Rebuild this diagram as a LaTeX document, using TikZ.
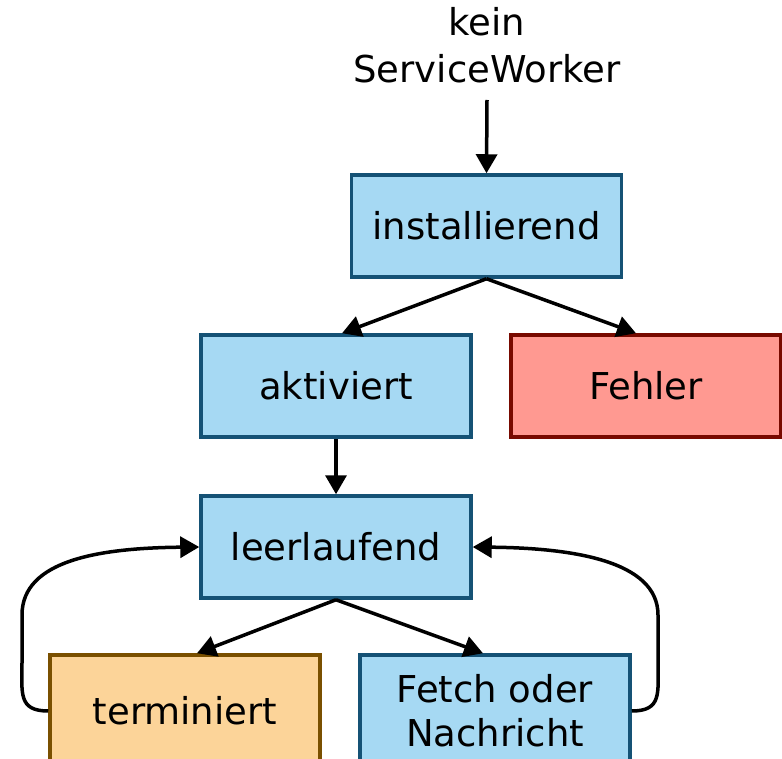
\documentclass[tikz,border=0pt]{standalone}
\usepackage{fontspec}
\setmainfont{DejaVu Sans}
\usetikzlibrary{arrows.meta}
\definecolor{bluefill}{HTML}{A6D9F3}
\definecolor{blueline}{HTML}{155275}
\definecolor{redfill}{HTML}{FF9991}
\definecolor{redline}{HTML}{780A00}
\definecolor{orangefill}{HTML}{FCD499}
\definecolor{orangeline}{HTML}{7A5000}
\begin{document}
\begin{tikzpicture}[x=1pt,y=-1pt,
  statebox/.style={draw, line width=3.5pt, minimum width=270pt, minimum height=102pt,
    inner sep=0pt, align=center, font=\fontsize{37}{44}\selectfont},
  lowbox/.style={minimum height=112pt},
  bluebox/.style={statebox, fill=bluefill, draw=blueline},
  redbox/.style={statebox, fill=redfill, draw=redline},
  orangebox/.style={statebox, fill=orangefill, draw=orangeline},
  conn/.style={line width=3.5pt, -{Triangle[length=19pt,width=21pt]}},
]
\useasboundingbox (0,0) rectangle (782,759);
\begin{scope}
\clip (0,0) rectangle (782,759);

% states
\node[align=center, inner sep=0pt, font=\fontsize{37}{47}\selectfont] (start) at (487,45) {kein\\ServiceWorker};
\node[bluebox] (inst) at (486.5,226) {installierend};
\node[bluebox] (akt) at (336,386) {aktiviert};
\node[redbox] (err) at (646,386) {Fehler};
\node[bluebox] (leer) at (336,547) {leerlaufend};
\node[orangebox, lowbox] (term) at (185,711) {terminiert};
\node[bluebox, lowbox] (fetch) at (495,711) {Fetch oder\\Nachricht};

\coordinate (startend) at (487,100);

% transitions
\draw[conn] (startend) -- (inst.north);
\draw[conn] (inst.south) -- ([xshift=6pt]akt.north);
\draw[conn] (inst.south) -- ([xshift=-10pt]err.north);
\draw[conn] (akt.south) -- (leer.north);
\draw[conn] (leer.south) -- ([xshift=12pt]term.north);
\draw[conn] (leer.south) -- ([xshift=-12pt]fetch.north);
\draw[conn] (term.west) .. controls (18,711) and (22,693) .. (22,663) -- (22,615)
  .. controls (22,560) and (100,548) .. (leer.west);
\draw[conn] (fetch.east) .. controls (662,711) and (658,693) .. (658,663) -- (658,615)
  .. controls (658,560) and (570,548) .. (leer.east);
\end{scope}
\end{tikzpicture}
\end{document}
